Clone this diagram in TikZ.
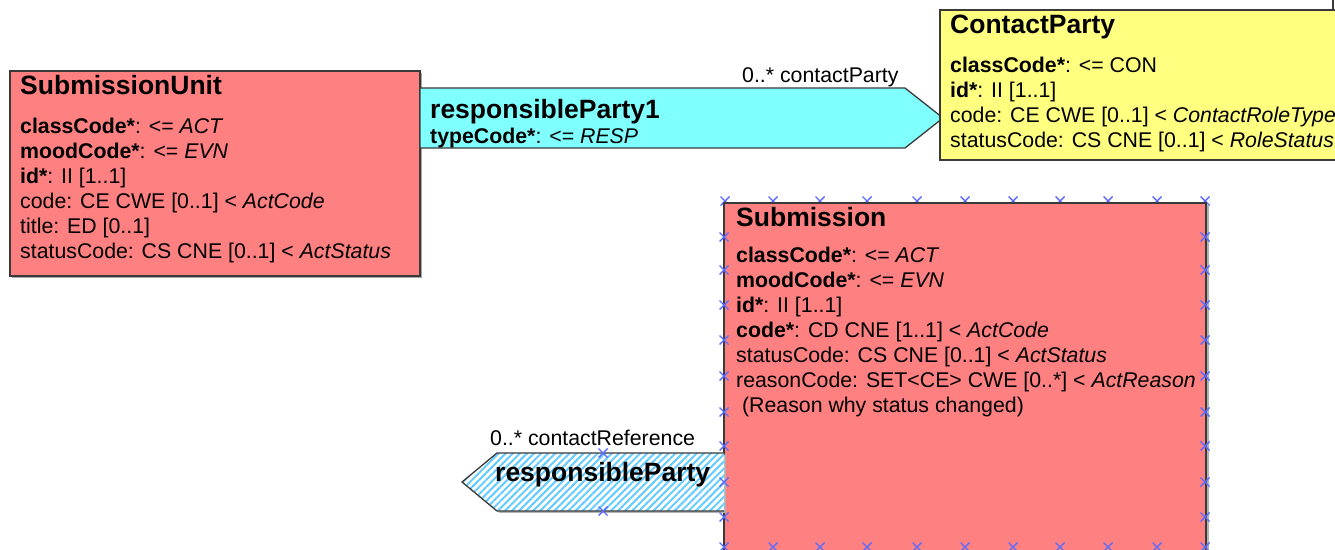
\documentclass[tikz,border=0pt]{standalone}
\usepackage{fontspec}
\setmainfont{Liberation Sans}
\usetikzlibrary{patterns.meta}
\definecolor{salmon}{HTML}{FF8080}
\definecolor{cyanfill}{HTML}{80FFFF}
\definecolor{yellowfill}{HTML}{FFFF80}
\definecolor{edge}{HTML}{3A3A3A}
\definecolor{mkblue}{HTML}{5A6CFF}
\tikzset{
  clsbox/.style={draw=edge, line width=1.3pt},
  ttl/.style={anchor=base west, inner sep=0pt, font=\fontsize{26.5}{30}\selectfont\bfseries},
  attr/.style={anchor=base west, inner sep=0pt, font=\fontsize{21.3}{25}\selectfont},
  mk/.style={draw=mkblue, line width=1.4pt},
  pics/crossmk/.style={code={\draw[mk] (-4.5,-4.5) -- (4.5,4.5) (-4.5,4.5) -- (4.5,-4.5);}}
}
\begin{document}
\begin{tikzpicture}[x=1pt,y=-1pt]
\useasboundingbox (0,0) rectangle (1335,549);
\clip (0,0) rectangle (1335,549);
\fill[white] (0,0) rectangle (1335,549);

% ---------- SubmissionUnit ----------
\fill[black!35] (12,73) rectangle (422,278);
\filldraw[clsbox, fill=salmon] (10,71) rectangle (420,276);
\node[ttl] (suT) at (20,94) {SubmissionUnit};
\node[attr] (su1) at (20,133) {\textbf{classCode*}: <= \textit{ACT}};
\node[attr] (su2) at (20,158) {\textbf{moodCode*}: <= \textit{EVN}};
\node[attr] (su3) at (20,183) {\textbf{id*}: II [1..1]};
\node[attr] (su4) at (20,208) {code: CE CWE [0..1] < \textit{ActCode}};
\node[attr] (su5) at (20,233) {title: ED [0..1]};
\node[attr] (su6) at (20,258) {statusCode: CS CNE [0..1] < \textit{ActStatus}};

% ---------- responsibleParty1 (association, pointing right) ----------
\filldraw[clsbox, fill=cyanfill] (420,88) -- (905,88) -- (943,118) -- (905,148) -- (420,148) -- cycle;
\node[ttl] (rp1T) at (430,118) {responsibleParty1};
\node[attr] (rp1a) at (430,143) {\textbf{typeCode*}: <= \textit{RESP}};
\node[attr] (rp1L) at (742,82) {0..* contactParty};

% ---------- ContactParty ----------
\draw[edge, line width=1.3pt] (1333,0) -- (1333,10);
\filldraw[clsbox, fill=yellowfill] (940,10) rectangle (1345,160);
\node[ttl] (cpT) at (950,33) {ContactParty};
\node[attr] (cp1) at (950,72) {\textbf{classCode*}: <= CON};
\node[attr] (cp2) at (950,97) {\textbf{id*}: II [1..1]};
\node[attr] (cp3) at (950,122) {code: CE CWE [0..1] < \textit{ContactRoleType}};
\node[attr] (cp4) at (950,147) {statusCode: CS CNE [0..1] < \textit{RoleStatus}};

% ---------- Submission ----------
\foreach \x in {725,773,820,867,917,965,1013,1060,1108,1157,1205}
  \pic at (\x,201) {crossmk};
\fill[black!30] (726,205) rectangle (1209,560);
\filldraw[clsbox, fill=salmon] (724,203) rectangle (1206,560);
\node[ttl] (sT) at (736,226) {Submission};
\node[attr] (s1) at (736,262) {\textbf{classCode*}: <= \textit{ACT}};
\node[attr] (s2) at (736,287) {\textbf{moodCode*}: <= \textit{EVN}};
\node[attr] (s3) at (736,312) {\textbf{id*}: II [1..1]};
\node[attr] (s4) at (736,337) {\textbf{code*}: CD CNE [1..1] < \textit{ActCode}};
\node[attr] (s5) at (736,362) {statusCode: CS CNE [0..1] < \textit{ActStatus}};
\node[attr] (s6) at (736,387) {reasonCode: SET<CE> CWE [0..*] < \textit{ActReason}};
\node[attr] (s7) at (736,412) {\ (Reason why status changed)};

% ---------- responsibleParty (hatched, pointing left) ----------
\fill[black!30] (499,455) -- (726,455) -- (726,513) -- (499,513) -- cycle;
\fill[white] (724,453) -- (497,453) -- (462,482) -- (497,511) -- (724,511) -- cycle;
\fill[pattern={Lines[angle=45,distance=5pt,line width=2pt]}, pattern color=cyanfill!80!blue]
  (724,453) -- (497,453) -- (462,482) -- (497,511) -- (724,511) -- cycle;
\draw[clsbox] (724,453) -- (497,453) -- (462,482) -- (497,511) -- (724,511);
\node[ttl] (rpT) at (495,481) {responsibleParty};
\node[attr] (rpL) at (490,445) {0..* contactReference};

% ---------- selection markers ----------
\foreach \y in {237,270,305,340,376,412,446,482,517,547} {
  \pic at (724,\y) {crossmk};
  \pic at (1205,\y) {crossmk};
}
\foreach \x in {773,820,867,917,965,1013,1060,1108,1157}
  \pic at (\x,547) {crossmk};
\pic at (603,453) {crossmk};
\pic at (603,511) {crossmk};
\end{tikzpicture}
\end{document}
